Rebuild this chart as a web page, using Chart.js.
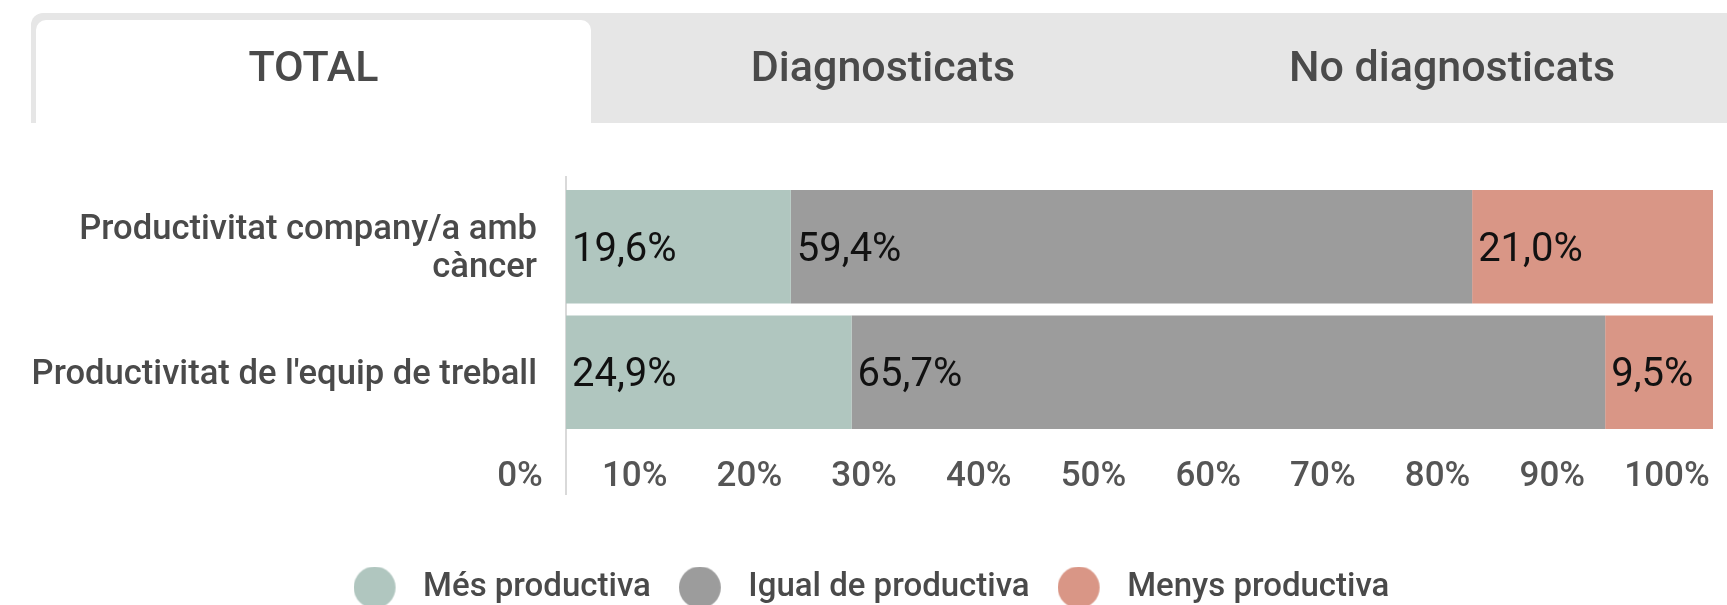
<!DOCTYPE html>
<html>
<head>
<meta charset="utf-8">
<script src="https://cdn.jsdelivr.net/npm/chart.js@4.4.0/dist/chart.umd.min.js"></script>
<style>
  html, body { margin: 0; padding: 0; background: #fff; overflow: hidden; }
  body { width: 1727px; height: 605px; position: relative; font-family: Roboto, sans-serif; }
  #tabs { position: absolute; left: 31px; top: 13px; width: 1720px; height: 110px; background: #e6e6e6; border-top-left-radius: 12px; }
  .tab { position: absolute; top: 0; height: 110px; line-height: 106px; text-align: center; font-size: 43px; font-weight: 500; color: #4a4a4a; }
  .tab.active { background: #fff; top: 7px; height: 103px; line-height: 92px; border-radius: 10px 10px 0 0; }
  #wrap { position: absolute; left: 0; top: 0; width: 1727px; height: 614px; }
</style>
</head>
<body>
<div id="wrap"><canvas id="myChart" width="1727" height="614"></canvas></div>
<div id="tabs">
  <div class="tab active" style="left:5px;width:555px;">TOTAL</div>
  <div class="tab" style="left:568px;width:568px;">Diagnosticats</div>
  <div class="tab" style="left:1137px;width:568px;">No diagnosticats</div>
</div>
<script>
var categories = [["Productivitat company/a amb", "càncer"], "Productivitat de l'equip de treball"];
var seriesNames = ["Més productiva", "Igual de productiva", "Menys productiva"];
var mesProductiva = [19.6, 24.9];
var igualProductiva = [59.4, 65.7];
var menysProductiva = [21.0, 9.5];
var tickLabels = ["0%", "10%", "20%", "30%", "40%", "50%", "60%", "70%", "80%", "90%", "100%"];
var colors = ['#b0c6bf', '#9c9c9c', '#d99686'];

// legend marker: a circle on the left of a wider box, to leave a gap before the text
function dot(color) {
    var c = document.createElement('canvas');
    c.width = 53;
    c.height = 42;
    var g = c.getContext('2d');
    g.fillStyle = color;
    g.beginPath();
    g.arc(21, 21, 21, 0, Math.PI * 2);
    g.fill();
    return c;
}

// vertical line at 0, a bit longer than the plot area
var zeroLine = {
    id: 'zeroLine',
    afterLayout: function(chart) {
        // center the legend row like the original
        chart.legend.left += 15;
        chart.legend.right += 15;
    },
    beforeDatasetsDraw: function(chart) {
        var ctx = chart.ctx, area = chart.chartArea;
        var x = chart.scales.x.getPixelForValue(0);
        ctx.save();
        ctx.strokeStyle = '#d9d9d9';
        ctx.lineWidth = 2;
        ctx.beginPath();
        ctx.moveTo(x, area.top - 8);
        ctx.lineTo(x, area.bottom + 60);
        ctx.stroke();
        ctx.restore();
    }
};

// value labels at the start of each segment
var barLabels = {
    id: 'barLabels',
    afterDatasetsDraw: function(chart) {
        var ctx = chart.ctx;
        ctx.save();
        ctx.font = '40px Roboto';
        ctx.fillStyle = '#111';
        ctx.textAlign = 'left';
        ctx.textBaseline = 'middle';
        chart.data.datasets.forEach(function(ds, i) {
            chart.getDatasetMeta(i).data.forEach(function(bar, j) {
                var txt = ds.data[j].toFixed(1).replace('.', ',') + '%';
                ctx.fillText(txt, Math.min(bar.base, bar.x) + 6, bar.y + 4);
            });
        });
        ctx.restore();
    }
};

function load(){
    var ctx = document.getElementById('myChart').getContext('2d');
    var values = [mesProductiva, igualProductiva, menysProductiva];
    var myChart = new Chart(ctx, {
        type: 'bar',
        data: {
            labels: categories,
            datasets: values.map(function(v, i) {
                return {
                    label: seriesNames[i],
                    data: v,
                    backgroundColor: colors[i],
                    borderWidth: 0,
                    barPercentage: 0.906,
                    categoryPercentage: 1
                };
            })
        },
        options: {
            indexAxis: 'y',
            responsive: false,
            animation: false,
            layout: { padding: { top: 184, right: 14, left: 0, bottom: 0 } },
            plugins: {
                tooltip: { enabled: false },
                legend: {
                    position: 'bottom',
                    labels: {
                        usePointStyle: true,
                        boxWidth: 53,
                        boxHeight: 33,
                        pointStyleWidth: 53,
                        padding: 28,
                        color: '#4a4a4a',
                        font: { family: 'Roboto', size: 33, weight: '500' },
                        generateLabels: function(chart) {
                            return chart.data.datasets.map(function(ds, i) {
                                return {
                                    text: ds.label,
                                    fillStyle: colors[i],
                                    strokeStyle: colors[i],
                                    lineWidth: 0,
                                    pointStyle: dot(colors[i]),
                                    fontColor: '#4a4a4a',
                                    hidden: false,
                                    datasetIndex: i
                                };
                            });
                        }
                    }
                }
            },
            scales: {
                x: {
                    stacked: true,
                    min: 0,
                    max: 100,
                    grid: { display: false, drawTicks: false },
                    border: { display: false },
                    afterFit: function(scale) {
                        scale.height = 108;
                        scale.paddingLeft = 0;
                        scale.paddingRight = 0;
                    },
                    ticks: {
                        stepSize: 10,
                        maxRotation: 0,
                        autoSkip: false,
                        padding: 21,
                        labelOffset: -46,
                        color: '#555',
                        font: { family: 'Roboto', size: 35, weight: '500' },
                        callback: function(v) { return tickLabels[v / 10]; }
                    }
                },
                y: {
                    stacked: true,
                    grid: { display: false, drawTicks: false },
                    border: { display: false },
                    afterFit: function(scale) { scale.width = 566; },
                    ticks: {
                        padding: 29,
                        labelOffset: 3,
                        color: '#4a4a4a',
                        font: { family: 'Roboto', size: 34.6, weight: '500', lineHeight: 1.1 }
                    }
                }
            }
        },
        plugins: [zeroLine, barLabels]
    });
}

window.onload = load();
</script>
</body>
</html>
